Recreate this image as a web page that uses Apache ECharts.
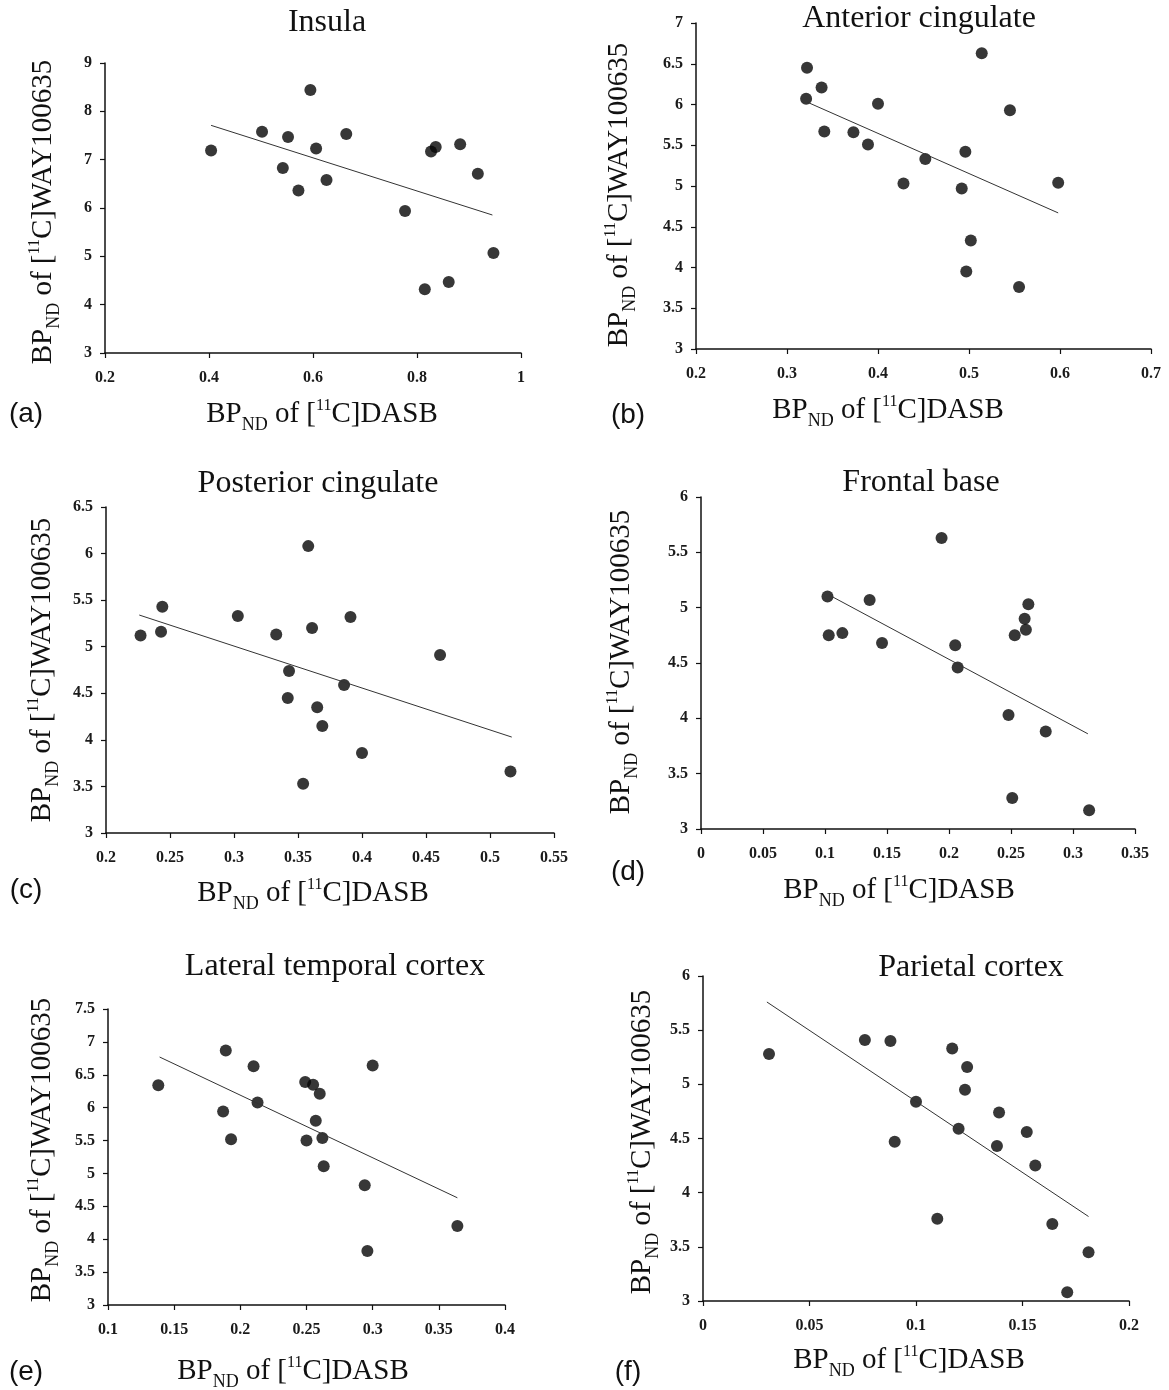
<!DOCTYPE html>
<html lang="en">
<head>
<meta charset="utf-8">
<title>BPND DASB vs WAY100635</title>
<style>
  html, body { margin: 0; padding: 0; background: #fff; }
  #chart { width: 1169px; height: 1390px; }
</style>
</head>
<body>
<div id="chart"></div>
<script src="https://cdn.jsdelivr.net/npm/echarts@6/dist/echarts.min.js"></script>
<script>
// (a) Insula
var insulaX = [0.404, 0.502, 0.552, 0.542, 0.572, 0.595, 0.606, 0.626, 0.664, 0.777, 0.827, 0.836, 0.883, 0.917, 0.947, 0.815, 0.861];
var insulaY = [7.19, 7.58, 7.47, 6.83, 6.36, 8.44, 7.23, 6.58, 7.53, 5.94, 7.17, 7.26, 7.32, 6.71, 5.07, 4.32, 4.47];
var insulaFitX = [0.404, 0.945];
var insulaFitY = [7.71, 5.855];

// (b) Anterior cingulate
var anteriorX = [0.322, 0.321, 0.338, 0.341, 0.373, 0.389, 0.400, 0.428, 0.452, 0.496, 0.492, 0.514, 0.545, 0.598, 0.502, 0.497, 0.555];
var anteriorY = [6.45, 6.07, 6.21, 5.67, 5.66, 5.51, 6.01, 5.03, 5.33, 5.42, 4.97, 6.63, 5.93, 5.04, 4.33, 3.95, 3.76];
var anteriorFitX = [0.322, 0.598];
var anteriorFitY = [6.03, 4.67];

// (c) Posterior cingulate
var posteriorX = [0.227, 0.244, 0.243, 0.303, 0.333, 0.358, 0.361, 0.391, 0.343, 0.342, 0.365, 0.369, 0.386, 0.461, 0.400, 0.354, 0.516];
var posteriorY = [5.12, 5.43, 5.16, 5.33, 5.13, 6.08, 5.20, 5.32, 4.74, 4.45, 4.35, 4.15, 4.59, 4.91, 3.86, 3.53, 3.66];
var posteriorFitX = [0.226, 0.517];
var posteriorFitY = [5.34, 4.03];

// (d) Frontal base
var frontalX = [0.102, 0.103, 0.114, 0.136, 0.146, 0.194, 0.205, 0.207, 0.253, 0.261, 0.262, 0.264, 0.248, 0.278, 0.251, 0.313];
var frontalY = [5.10, 4.75, 4.77, 5.07, 4.68, 5.63, 4.66, 4.46, 4.75, 4.90, 4.80, 5.03, 4.03, 3.88, 3.28, 3.17];
var frontalFitX = [0.104, 0.312];
var frontalFitY = [5.11, 3.86];

// (e) Lateral temporal cortex
var temporalX = [0.138, 0.189, 0.187, 0.193, 0.210, 0.213, 0.249, 0.255, 0.260, 0.257, 0.250, 0.262, 0.263, 0.300, 0.294, 0.296, 0.364];
var temporalY = [6.34, 6.87, 5.94, 5.52, 6.63, 6.08, 6.39, 6.35, 6.21, 5.80, 5.50, 5.54, 5.11, 6.64, 4.82, 3.82, 4.20];
var temporalFitX = [0.139, 0.364];
var temporalFitY = [6.77, 4.63];

// (f) Parietal cortex
var parietalX = [0.031, 0.076, 0.088, 0.090, 0.100, 0.117, 0.124, 0.123, 0.120, 0.110, 0.139, 0.138, 0.152, 0.156, 0.164, 0.181, 0.171];
var parietalY = [5.28, 5.41, 5.40, 4.47, 4.84, 5.33, 5.16, 4.95, 4.59, 3.76, 4.74, 4.43, 4.56, 4.25, 3.71, 3.45, 3.08];
var parietalFitX = [0.030, 0.181];
var parietalFitY = [5.76, 3.78];

// axis ranges: [min, max, interval]
var xRanges = [[0.2, 1, 0.2], [0.2, 0.7, 0.1], [0.2, 0.55, 0.05], [0, 0.35, 0.05], [0.1, 0.4, 0.05], [0, 0.2, 0.05]];
var yRanges = [[3, 9, 1], [3, 7, 0.5], [3, 6.5, 0.5], [3, 6, 0.5], [3, 7.5, 0.5], [3, 6, 0.5]];

var titles = ['Insula', 'Anterior cingulate', 'Posterior cingulate', 'Frontal base', 'Lateral temporal cortex', 'Parietal cortex'];
var tags = ['(a)', '(b)', '(c)', '(d)', '(e)', '(f)'];

var panels = [
  {x: insulaX, y: insulaY, fx: insulaFitX, fy: insulaFitY},
  {x: anteriorX, y: anteriorY, fx: anteriorFitX, fy: anteriorFitY},
  {x: posteriorX, y: posteriorY, fx: posteriorFitX, fy: posteriorFitY},
  {x: frontalX, y: frontalY, fx: frontalFitX, fy: frontalFitY},
  {x: temporalX, y: temporalY, fx: temporalFitX, fy: temporalFitY},
  {x: parietalX, y: parietalY, fx: parietalFitX, fy: parietalFitY}
];

// layout (pixels): grid boxes and text anchors
var gridBoxes = [[105, 63, 416, 290], [696, 23, 455, 326], [106, 507, 448, 326], [701, 497, 434, 332], [108, 1009, 397, 296], [703, 976, 426, 325]];
var titlePos = [[327, 23], [919, 19], [318, 484], [921, 483], [335, 967], [971, 968]];
var xNamePos = [[322, 414], [888, 410], [313, 893], [899, 890], [293, 1371], [909, 1360]];
var yNamePos = [[43, 212], [619, 195], [42, 670], [621, 662], [42, 1150], [642, 1142]];
var tagPos = [[26, 414], [628, 415], [26, 890], [628, 872], [26, 1372], [628, 1372]];

var serif = '"Liberation Serif", "Times New Roman", serif';
var sans = '"Liberation Sans", Arial, sans-serif';
var ink = '#111';

var rich = {
  b: {fontSize: 29, fontFamily: serif, fill: ink, lineHeight: 40, verticalAlign: 'middle'},
  s: {fontSize: 18, fontFamily: serif, fill: ink, verticalAlign: 'bottom'},
  p: {fontSize: 16, fontFamily: serif, fill: ink, height: 24, verticalAlign: 'top'}
};
var xName = '{b|BP}{s|ND}{b| of [}{p|11}{b|C]DASB}';
var yName = '{b|BP}{s|ND}{b| of [}{p|11}{b|C]WAY100635}';

function text(pos, str, size, family, rot) {
  return {
    type: 'text', x: pos[0], y: pos[1], rotation: rot || 0, silent: true,
    style: {text: str, fontSize: size, fontFamily: family, fill: ink,
            align: 'center', verticalAlign: 'middle', rich: rich}
  };
}

var axisLine = {show: true, lineStyle: {color: ink, width: 1.5}};
var axisTick = {show: true, inside: false, length: 5, lineStyle: {color: ink, width: 1.2}};
var tickFont = {fontFamily: serif, fontSize: 16, fontWeight: 'bold', color: '#1a1a1a'};

var grids = [], xAxes = [], yAxes = [], series = [], graphics = [];

panels.forEach(function (p, i) {
  var g = gridBoxes[i];
  grids.push({left: g[0], top: g[1], width: g[2], height: g[3], outerBoundsMode: 'none'});

  xAxes.push({
    gridIndex: i, type: 'value',
    min: xRanges[i][0], max: xRanges[i][1], interval: xRanges[i][2],
    axisLine: axisLine, axisTick: axisTick, splitLine: {show: false},
    axisLabel: Object.assign({margin: 17}, tickFont)
  });
  yAxes.push({
    gridIndex: i, type: 'value',
    min: yRanges[i][0], max: yRanges[i][1], interval: yRanges[i][2],
    axisLine: axisLine, axisTick: axisTick, splitLine: {show: false},
    axisLabel: Object.assign({margin: 13}, tickFont)
  });

  series.push({
    type: 'scatter', xAxisIndex: i, yAxisIndex: i,
    symbolSize: 12, itemStyle: {color: '#050505'},
    data: p.x.map(function (v, k) { return [v, p.y[k]]; })
  });
  series.push({
    type: 'line', xAxisIndex: i, yAxisIndex: i,
    symbol: 'none', lineStyle: {color: '#333', width: 1},
    data: p.fx.map(function (v, k) { return [v, p.fy[k]]; })
  });

  graphics.push(text(titlePos[i], titles[i], 32, serif));
  graphics.push(text(xNamePos[i], xName, 29, serif));
  graphics.push(text(yNamePos[i], yName, 29, serif, Math.PI / 2));
  graphics.push(text(tagPos[i], tags[i], 28, sans));
});

var chart = echarts.init(document.getElementById('chart'), null, {renderer: 'canvas'});
chart.setOption({
  backgroundColor: '#fff',
  animation: false,
  grid: grids,
  xAxis: xAxes,
  yAxis: yAxes,
  series: series,
  graphic: graphics
});
</script>
</body>
</html>
